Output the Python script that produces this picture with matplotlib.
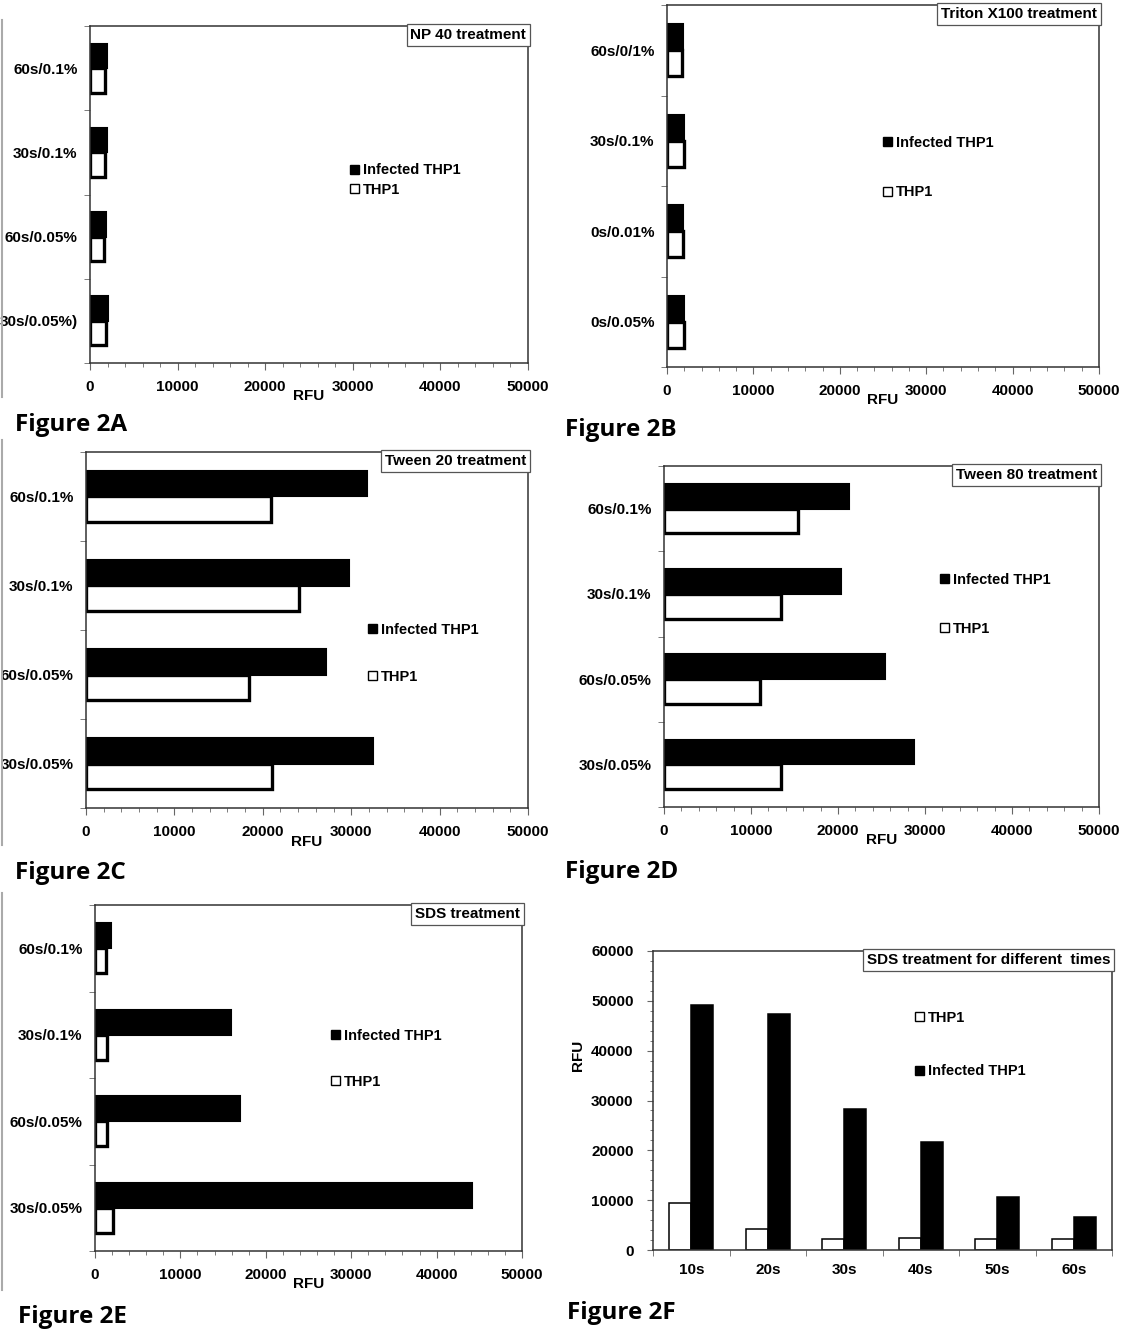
import numpy as np
import matplotlib
matplotlib.use('Agg')
import matplotlib.pyplot as plt
from matplotlib.patches import Patch
from matplotlib.lines import Line2D
from matplotlib.ticker import MultipleLocator

plt.rcParams['font.family'] = ['Liberation Sans', 'DejaVu Sans']
plt.rcParams['font.weight'] = 'bold'
plt.rcParams['axes.labelweight'] = 'bold'
plt.rcParams['font.size'] = 10.5

# Figure 2A - NP 40
np40_labels = ['60s/0.1%', '30s/0.1%', '60s/0.05%', '30s/0.05%)']
np40_infected = [1900, 1900, 1850, 2000]
np40_thp1 = [1750, 1700, 1650, 1800]

# Figure 2B - Triton X100
triton_labels = ['60s/0/1%', '30s/0.1%', '0s/0.01%', '0s/0.05%']
triton_infected = [1900, 1950, 1850, 2000]
triton_thp1 = [1700, 2000, 1900, 2000]

# Figure 2C - Tween 20
tw20_labels = ['60s/0.1%', '30s/0.1%', '60s/0.05%', '30s/0.05%']
tw20_infected = [31800, 29700, 27200, 32500]
tw20_thp1 = [20900, 24100, 18400, 21000]

# Figure 2D - Tween 80
tw80_labels = ['60s/0.1%', '30s/0.1%', '60s/0.05%', '30s/0.05%']
tw80_infected = [21300, 20300, 25400, 28700]
tw80_thp1 = [15400, 13500, 11000, 13400]

# Figure 2E - SDS
sds_labels = ['60s/0.1%', '30s/0.1%', '60s/0.05%', '30s/0.05%']
sds_infected = [1900, 15900, 17000, 44100]
sds_thp1 = [1300, 1400, 1400, 2100]

# Figure 2F - SDS over time
times = ['10s', '20s', '30s', '40s', '50s', '60s']
time_thp1 = [9500, 4300, 2300, 2500, 2300, 2200]
time_infected = [49100, 47400, 28200, 21600, 10600, 6600]

W, H = 1123, 1344
fig = plt.figure(figsize=(W / 100, H / 100), dpi=100)


def px_axes(left, top, right, bottom):
    return fig.add_axes([left / W, 1 - bottom / H, (right - left) / W, (bottom - top) / H])


def style_spines(ax):
    for s in ax.spines.values():
        s.set_color('#333333')
        s.set_linewidth(1.1)
    ax.tick_params(which='both', colors='#666666', labelcolor='black', labelsize=11)


def title_box(ax, text):
    ax.text(0.996, 0.994, text, transform=ax.transAxes, ha='right', va='top',
            fontsize=11, zorder=5,
            bbox=dict(boxstyle='square,pad=0.26', fc='white', ec='#555555', lw=0.9))


def hbar_panel(ax, labels, infected, thp1, title, leg_x, leg_y, leg_space):
    y = np.arange(len(labels))
    h = 0.29
    ax.barh(y - h / 2, infected, height=h, color='black', edgecolor='black', lw=1.5)
    ax.barh(y + h / 2, thp1, height=h, color='white', edgecolor='black', lw=2.4)
    ax.set_xlim(0, 50000)
    ax.set_ylim(len(labels) - 0.5, -0.5)
    ax.set_yticks(y)
    ax.set_yticklabels(labels)
    ax.set_yticks(np.arange(len(labels) + 1) - 0.5, minor=True)
    ax.tick_params(axis='y', which='major', length=0, pad=9)
    ax.tick_params(axis='y', which='minor', length=4)
    ax.xaxis.set_major_locator(MultipleLocator(10000))
    ax.xaxis.set_minor_locator(MultipleLocator(2000))
    ax.tick_params(axis='x', which='major', length=5, pad=7)
    ax.tick_params(axis='x', which='minor', length=3)
    ax.set_xlabel('RFU', labelpad=-3, fontsize=11)
    style_spines(ax)
    title_box(ax, title)
    handles = [Patch(fc='black', ec='black', label='Infected THP1'),
               Patch(fc='white', ec='black', lw=1, label='THP1')]
    ax.legend(handles=handles, loc='center left', bbox_to_anchor=(leg_x, leg_y),
              frameon=False, borderpad=0, borderaxespad=0, handlelength=0.6,
              handleheight=0.6, handletextpad=0.3, labelspacing=leg_space, fontsize=10.5)


ax_a = px_axes(90, 26, 528, 363)
hbar_panel(ax_a, np40_labels, np40_infected, np40_thp1, 'NP 40 treatment', 0.594, 0.543, 0.35)

ax_b = px_axes(667, 5, 1099, 367)
hbar_panel(ax_b, triton_labels, triton_infected, triton_thp1, 'Triton X100 treatment', 0.5, 0.551, 2.45)

ax_c = px_axes(86, 452, 528, 808)
hbar_panel(ax_c, tw20_labels, tw20_infected, tw20_thp1, 'Tween 20 treatment', 0.638, 0.435, 2.25)

ax_d = px_axes(664, 466, 1099, 807)
hbar_panel(ax_d, tw80_labels, tw80_infected, tw80_thp1, 'Tween 80 treatment', 0.634, 0.595, 2.4)

ax_e = px_axes(95, 905, 522, 1251)
hbar_panel(ax_e, sds_labels, sds_infected, sds_thp1, 'SDS treatment', 0.553, 0.556, 2.2)

# Figure 2F
ax_f = px_axes(653, 951, 1112, 1250)
x = np.arange(len(times))
w = 0.29
ax_f.bar(x - w / 2, time_thp1, w, color='white', edgecolor='black', lw=1.1)
ax_f.bar(x + w / 2, time_infected, w, color='black', edgecolor='black', lw=1.1)
ax_f.set_xlim(-0.5, len(times) - 0.5)
ax_f.set_ylim(0, 60000)
ax_f.set_xticks(x)
ax_f.set_xticklabels(times)
ax_f.set_xticks(np.arange(len(times) + 1) - 0.5, minor=True)
ax_f.tick_params(axis='x', which='major', length=0, pad=9)
ax_f.tick_params(axis='x', which='minor', length=4)
ax_f.yaxis.set_major_locator(MultipleLocator(10000))
ax_f.yaxis.set_minor_locator(MultipleLocator(2000))
ax_f.tick_params(axis='y', which='major', length=4, pad=10)
ax_f.tick_params(axis='y', which='minor', length=2)
ax_f.set_ylabel('RFU', fontsize=11)
ax_f.yaxis.set_label_coords(-0.148, 0.652)
style_spines(ax_f)
title_box(ax_f, 'SDS treatment for different  times')
handles = [Patch(fc='white', ec='black', lw=1, label='THP1'),
           Patch(fc='black', ec='black', label='Infected THP1')]
ax_f.legend(handles=handles, loc='center left', bbox_to_anchor=(0.571, 0.687),
            frameon=False, borderpad=0, borderaxespad=0, handlelength=0.6,
            handleheight=0.6, handletextpad=0.3, labelspacing=2.7, fontsize=10.5)

# panel captions
caption_kw = dict(fontsize=17.5, fontweight='bold', family=['Open Sans', 'DejaVu Sans'],
                  va='center', ha='left')
fig.text(15 / W, 1 - 425 / H, 'Figure 2A', **caption_kw)
fig.text(565 / W, 1 - 430 / H, 'Figure 2B', **caption_kw)
fig.text(15 / W, 1 - 873 / H, 'Figure 2C', **caption_kw)
fig.text(565 / W, 1 - 872 / H, 'Figure 2D', **caption_kw)
fig.text(18 / W, 1 - 1317 / H, 'Figure 2E', **caption_kw)
fig.text(567 / W, 1 - 1313 / H, 'Figure 2F', **caption_kw)

# grey edges of the pasted panel images
for top, bottom in [(20, 397), (440, 845), (893, 1290)]:
    fig.add_artist(Line2D([1.5 / W, 1.5 / W], [1 - top / H, 1 - bottom / H], color='#aaaaaa', lw=1.5))

fig.savefig('out.png', dpi=100)
